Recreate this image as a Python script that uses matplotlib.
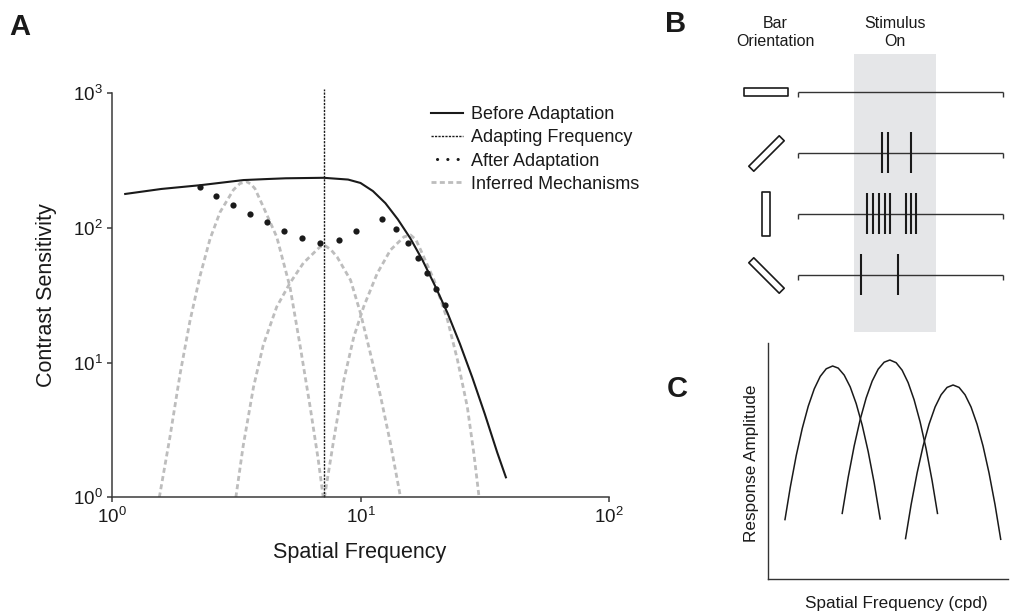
import matplotlib.pyplot as plt
from matplotlib.lines import Line2D
from matplotlib.markers import MarkerStyle
from matplotlib.path import Path
from matplotlib.transforms import Affine2D
from matplotlib.ticker import LogLocator, NullLocator

plt.rcParams['font.family'] = ['Liberation Sans', 'DejaVu Sans']

# --- A: contrast sensitivity before / after adaptation ---
before_f = [1.13, 1.58, 2.27, 3.38, 4.2, 5.0, 7.1, 8.91, 10.0, 11.22, 12.59, 14.13, 15.85, 17.78,
            19.95, 22.39, 25.12, 28.18, 31.62, 35.48, 38.46]
before_s = [179, 195, 208, 227, 231, 234, 236, 229, 216, 188, 153, 116, 84.1, 57.5,
            37.2, 23.4, 13.8, 7.76, 4.17, 2.16, 1.41]

after_f = [2.25, 2.63, 3.08, 3.60, 4.22, 4.94, 5.81, 6.87, 8.17, 9.57, 12.2, 13.9, 15.5, 17.0, 18.6, 20.1, 21.9]
after_s = [200, 172, 147, 127, 110, 95.5, 84, 77, 82, 95, 117, 98, 78, 60, 46, 35, 27]

adapt_f = 7.1

mech1_f = [1.55, 1.71, 1.88, 2.06, 2.26, 2.48, 2.72, 3.08, 3.27, 3.48, 3.62, 3.76, 4.06, 4.60, 5.20, 5.72, 6.27, 6.76, 7.08]
mech1_s = [1.0, 2.8, 8.3, 20.5, 44, 83, 131, 192, 214, 221, 212, 196, 144, 86, 36.6, 13.2, 4.7, 1.9, 1.0]
mech2_f = [3.15, 3.37, 3.71, 4.06, 4.60, 5.20, 5.89, 6.87, 7.2, 7.6, 8.05, 9.12, 10.0, 10.96, 12.05, 13.21, 14.49]
mech2_s = [1.0, 2.4, 6.6, 13.5, 26, 39, 55, 72.5, 74, 69, 61, 41, 23.3, 11.7, 5.6, 2.5, 1.0]
mech3_f = [7.16, 7.80, 8.57, 9.40, 10.3, 11.67, 13.2, 14.96, 15.9, 16.7, 17.46, 19.77, 22.4, 24.55, 26.9, 28.6, 30.0]
mech3_s = [1.0, 2.67, 7.45, 15.6, 26.1, 46, 68.7, 86, 88.7, 82, 68.7, 41, 20.7, 10.5, 4.7, 2.1, 1.0]

# --- B: spike trains for each bar orientation ---
orientations = [0, 45, 90, 135]
spike_times = [
    [],
    [0.34, 0.41, 0.69],
    [0.155, 0.23, 0.305, 0.38, 0.44, 0.63, 0.695, 0.755],
    [0.085, 0.54],
]
stim_window = (0.0, 1.0)
trial_window = (-0.68, 1.82)

# --- C: channel tuning curves ---
tune1_x = [16.7, 22, 28, 34, 40, 46, 52, 58, 64.4, 70, 76, 82, 88, 94, 100, 106, 112]
tune1_y = [59.7, 92.0, 123.9, 150.9, 173.1, 190.4, 202.9, 210.5, 213.3, 211.2, 204.2, 192.4, 175.7, 154.2, 127.8, 96.5, 60.4]
tune2_x = [74, 80, 86, 92, 98, 104, 110, 116, 121.7, 128, 134, 140, 146, 152, 158, 164, 169.4]
tune2_y = [65.9, 102.1, 133.4, 159.8, 181.4, 198.2, 210.1, 217.1, 219.3, 216.6, 209.1, 196.7, 179.5, 157.4, 130.5, 98.7, 65.9]
tune3_x = [137.4, 143, 149, 155, 161, 167, 173, 179, 185, 191, 197, 203, 209, 215, 221, 227, 232.7]
tune3_y = [40.7, 74.7, 106.4, 133.3, 155.2, 172.3, 184.5, 191.9, 194.3, 191.9, 184.5, 172.3, 155.2, 133.3, 106.4, 74.7, 40.0]

ink = '#1a1a1a'
axis_col = '#3a3a3a'
mech_gray = '#bdbdbd'

fig = plt.figure(figsize=(10.1, 6.16), dpi=100)

# ---------------- panel A ----------------
ax = fig.add_axes([0.1109, 0.1925, 0.4921, 0.656])
mech_style = dict(color=mech_gray, lw=2.0, ls=(0, (1.8, 1.2)), zorder=1)
mech_line, = ax.plot(mech1_f, mech1_s, **mech_style)
ax.plot(mech2_f, mech2_s, **mech_style)
ax.plot(mech3_f, mech3_s, **mech_style)

before_line, = ax.plot(before_f, before_s, color=ink, lw=1.5, zorder=3)
adapt_line = ax.axvline(adapt_f, ymin=0, ymax=1.01, color=ink, lw=1.0,
                        ls=(0, (1.6, 0.9)), clip_on=False, zorder=2)
ax.plot(after_f, after_s, 'o', color=ink, ms=4.5, mec='none', zorder=4)

ax.set_xscale('log')
ax.set_yscale('log')
ax.set_xlim(1, 100)
ax.set_ylim(1, 1000)
for axis in (ax.xaxis, ax.yaxis):
    axis.set_major_locator(LogLocator(base=10, numticks=6))
    axis.set_minor_locator(NullLocator())
for side in ('top', 'right'):
    ax.spines[side].set_visible(False)
for side in ('left', 'bottom'):
    ax.spines[side].set_color(axis_col)
    ax.spines[side].set_linewidth(1.1)
ax.tick_params(which='major', length=3.6, width=1.1, color=axis_col,
               labelsize=13.5, pad=3, labelcolor=ink)

ax.set_xlabel('Spatial Frequency', fontsize=15.5, color=ink)
ax.xaxis.label.set_verticalalignment('baseline')
ax.xaxis.set_label_coords(0.499, -0.150)
ax.set_ylabel('Contrast Sensitivity', fontsize=15.5, color=ink)
ax.yaxis.label.set(va='center', ha='center')
ax.yaxis.set_label_coords(-0.132, 0.5)

# three small dots as the key for the measured points
dots_handle = Line2D([], [], color=ink, lw=2.2, ls=(1.41, (0.05, 3.32)),
                     dash_capstyle='round')
ax.legend([before_line, adapt_line, dots_handle, mech_line],
          ['Before Adaptation', 'Adapting Frequency', 'After Adaptation',
           'Inferred Mechanisms'],
          loc='upper left', bbox_to_anchor=(0.642, 0.968), frameon=False,
          fontsize=13, handlelength=1.75, handletextpad=0.45,
          labelspacing=0.34, borderpad=0, borderaxespad=0, labelcolor=ink)

# ---------------- panel B ----------------
axb = fig.add_axes([730 / 1010, 1 - 332 / 616, 280 / 1010, 278 / 616])
axb.set_xlim(-1.512, 1.902)
axb.set_ylim(3.94, -0.62)
axb.axis('off')
axb.axvspan(*stim_window, color='#e5e6e8', lw=0, zorder=0)

bar_path = Path([(-0.5, -0.082), (0.5, -0.082), (0.5, 0.082), (-0.5, 0.082), (-0.5, -0.082)],
                [Path.MOVETO, Path.LINETO, Path.LINETO, Path.LINETO, Path.CLOSEPOLY])
for row, (angle, spikes) in enumerate(zip(orientations, spike_times)):
    marker = MarkerStyle(bar_path, transform=Affine2D().rotate_deg(angle))
    axb.plot([-1.073], [row], marker=marker, ms=31, mfc='white', mec=ink,
             mew=1.2, ls='none', zorder=3)
    axb.hlines(row, *trial_window, color='#333333', lw=1.0, zorder=2)
    axb.plot(trial_window, [row, row], ls='none', marker=3, ms=3.5,
             mew=1.0, color='#333333', zorder=2)
    if spikes:
        axb.vlines(spikes, row - 0.34, row + 0.34, color=ink, lw=1.5, zorder=3)

fig.text(775 / 1010, 1 - 33 / 616, 'Bar\nOrientation', ha='center', va='center',
         fontsize=11.5, linespacing=1.25, color=ink)
fig.text(895 / 1010, 1 - 33 / 616, 'Stimulus\nOn', ha='center', va='center',
         fontsize=11.5, linespacing=1.25, color=ink)

# ---------------- panel C ----------------
axc = fig.add_axes([768.3 / 1010, 1 - 579.3 / 616, 239.7 / 1010, 236 / 616])
axc.set_xlim(0, 240)
axc.set_ylim(0, 236)
for tx, ty in ((tune1_x, tune1_y), (tune2_x, tune2_y), (tune3_x, tune3_y)):
    axc.plot(tx, ty, color=ink, lw=1.1)
for side in ('top', 'right'):
    axc.spines[side].set_visible(False)
for side in ('left', 'bottom'):
    axc.spines[side].set_color('#333333')
    axc.spines[side].set_linewidth(1.0)
axc.set_xticks([])
axc.set_yticks([])
axc.set_ylabel('Response Amplitude', fontsize=12.3, color=ink)
axc.yaxis.label.set(va='center', ha='center')
axc.yaxis.set_label_coords(-0.069, 0.491)
axc.set_xlabel('Spatial Frequency (cpd)', fontsize=12.3, color=ink)
axc.xaxis.label.set_verticalalignment('baseline')
axc.xaxis.set_label_coords(0.536, -0.123)

# panel letters
for letter, x, y in (('A', 9, 35), ('B', 665, 32), ('C', 667, 397)):
    fig.text(x / 1010, 1 - y / 616, letter, fontsize=21, fontweight='bold',
             va='baseline', ha='left', color=ink)

fig.savefig('out.png', dpi=100)
